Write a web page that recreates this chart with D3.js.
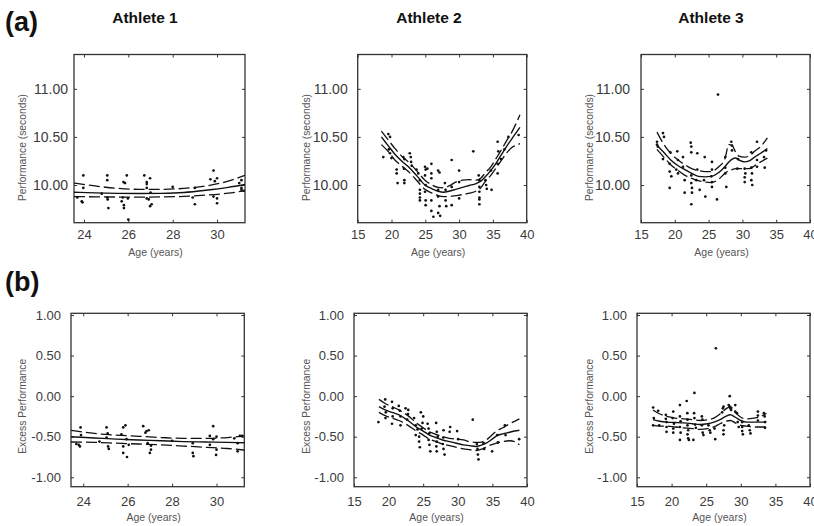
<!DOCTYPE html>
<html>
<head>
<meta charset="utf-8">
<script src="https://cdn.jsdelivr.net/npm/d3@7"></script>
<style>
  html, body { margin: 0; padding: 0; background: #fff; }
  svg { display: block; font-family: "Liberation Sans", Arial, Helvetica, sans-serif; }
</style>
</head>
<body>
<svg id="chart" width="814" height="526"></svg>
<script>
// ---------------- labels & ticks ----------------
const athleteNames = ["Athlete 1", "Athlete 2", "Athlete 3"];
const rowTags = ["(a)", "(b)"];
const perfTicks = [10, 10.5, 11];
const excessTicks = [-1, -0.5, 0, 0.5, 1];
const ageTicksShort = [24, 26, 28, 30];
const ageTicksLong = [15, 20, 25, 30, 35, 40];

// ---------------- (a) race times, seconds: [age, time] ----------------
const a1Races = [[23.97,10.10],[23.97,9.97],[23.7,9.87],[23.9,9.83],[23.93,9.82],[24.8,9.91],[25.05,9.87],[25.05,10.10],[25.05,10.05],[25.1,9.76],[25.07,9.85],
  [25.78,10.03],[25.93,10.10],[25.85,10.02],[25.7,9.83],[25.8,9.79],[25.8,9.76],[26.0,9.64],[25.75,9.87],[25.98,9.86],
  [26.72,10.10],[26.83,10.03],[26.83,10.01],[26.83,9.97],[26.98,10.07],[26.83,9.86],[26.92,9.85],[26.98,9.78],[27.05,9.80],[27.0,9.92],
  [28.0,9.98],[29.0,9.97],[29.0,9.80],[28.9,9.87],[29.84,10.15],[29.7,10.06],[29.9,10.04],[30.0,10.07],[29.84,9.88],[30.0,9.86],[30.0,9.81],
  [31.0,10.02],[31.1,10.05],[31.1,9.97],[31.1,9.95],[31.2,9.94]];
const a2Races = [[18.79,10.29],[19.53,10.53],[19.78,10.50],[19.78,10.33],[20.0,10.28],[19.6,10.37],[20.76,10.16],[20.76,10.12],[20.9,10.02],
  [21.75,10.29],[21.9,10.27],[21.9,10.05],[21.9,10.02],[21.85,10.17],[22.7,10.33],[22.85,10.29],[22.9,10.24],[23.0,10.20],[23.7,10.16],[23.97,10.12],
  [24.2,10.05],[24.2,9.95],[24.2,9.91],[24.2,9.87],[24.2,9.84],[24.96,10.19],[25.05,10.16],[24.96,10.10],[25.05,10.00],[24.96,9.93],[25.05,9.84],[25.05,9.79],
  [25.3,10.17],[25.9,10.22],[25.9,10.12],[25.9,10.07],[25.9,9.84],[25.9,9.73],[26.2,9.67],[26.9,10.15],[27.1,10.13],[26.9,9.95],[26.9,9.88],[27.1,9.78],
  [26.9,9.71],[27.2,9.68],[27.9,10.02],[28.0,9.95],[28.0,9.84],[28.1,9.78],[28.9,10.26],[28.9,9.98],[28.9,9.79],[30.0,10.15],[30.0,10.03],[30.0,9.86],
  [32.1,10.35],[32.9,10.10],[33.0,10.05],[33.0,9.98],[33.0,9.93],[33.0,9.87],[33.0,9.85],[33.0,9.80],[33.9,10.05],[34.0,10.00],[34.1,9.96],[34.7,10.15],
  [34.8,9.95],[35.7,10.45],[35.8,10.35],[35.7,10.22],[35.7,10.12],[36.2,10.27],[36.7,10.37],[37.3,10.50],[38.8,10.52]];
const a3Races = [[26.39,10.94],[17.37,10.45],[17.37,10.42],[17.5,10.40],[18.25,10.54],[18.4,10.50],[18.25,10.27],[19.34,10.34],[19.24,10.22],[19.24,10.14],
  [19.49,10.09],[19.24,9.97],[20.37,10.35],[20.47,10.26],[20.22,10.16],[20.47,10.12],[21.21,10.29],[21.21,10.19],[21.46,10.05],[21.46,9.92],
  [22.35,10.44],[22.44,10.40],[22.44,10.34],[22.44,10.10],[22.44,10.02],[22.54,9.97],[22.54,9.92],[22.44,9.80],[23.33,10.33],[23.33,10.16],[23.18,10.05],
  [23.68,9.95],[24.42,10.29],[24.32,10.05],[24.52,9.88],[25.5,10.24],[25.5,10.16],[25.4,10.09],[25.5,10.03],[25.5,9.98],[26.24,9.85],[27.47,10.29],
  [27.47,10.18],[27.47,10.12],[27.62,9.98],[28.36,10.45],[28.46,10.41],[28.46,10.36],[29.35,10.27],[29.25,10.17],[30.34,10.17],[30.44,10.12],[30.34,10.08],
  [30.34,10.03],[31.32,10.34],[31.32,10.18],[31.42,10.12],[31.32,10.05],[31.46,10.00],[32.16,10.45],[32.16,10.26],[32.16,10.19],[33.2,10.29],[33.3,10.18],[33.5,10.36]];

// fitted trend with confidence band, (a)
const a1CurveAge  = [23.55, 24.5, 25.5, 26.5, 27.5, 28.5, 29.5, 30.5, 31.26];
const a1CurveMid  = [9.925, 9.918, 9.913, 9.911, 9.913, 9.922, 9.945, 9.975, 10.005];
const a1CurveHigh = [10.02, 9.99, 9.965, 9.955, 9.955, 9.965, 9.99, 10.04, 10.10];
const a1CurveLow  = [9.88, 9.877, 9.875, 9.874, 9.876, 9.882, 9.895, 9.915, 9.94];

const a2CurveAge  = [18.5, 19.5, 20.5, 21.5, 22.5, 23.7, 24.95, 26.0, 26.9, 27.7, 28.5, 29.5, 30.5, 31.5, 32.5, 33.2, 33.8, 34.8, 35.5, 36.3, 37.1, 37.8, 38.5, 39.0];
const a2CurveMid  = [10.50, 10.41, 10.32, 10.25, 10.19, 10.10, 10.00, 9.96, 9.935, 9.925, 9.935, 9.955, 9.975, 9.995, 10.015, 10.04, 10.08, 10.16, 10.23, 10.32, 10.41, 10.48, 10.55, 10.60];
const a2CurveHigh = [10.56, 10.47, 10.38, 10.30, 10.24, 10.15, 10.05, 10.00, 9.975, 9.97, 9.99, 10.03, 10.05, 10.055, 10.05, 10.07, 10.12, 10.20, 10.28, 10.37, 10.47, 10.55, 10.65, 10.73];
const a2CurveLow  = [10.42, 10.35, 10.26, 10.20, 10.14, 10.05, 9.955, 9.915, 9.89, 9.88, 9.88, 9.89, 9.90, 9.915, 9.935, 9.97, 10.03, 10.11, 10.18, 10.26, 10.34, 10.39, 10.415, 10.43];

const a3CurveAge  = [17.36, 18.5, 19.4, 20.5, 21.5, 22.5, 23.5, 24.5, 25.4, 26.5, 27.4, 28.0, 28.5, 29.0, 29.5, 30.3, 31.0, 31.8, 32.7, 33.7];
const a3CurveMid  = [10.41, 10.33, 10.26, 10.20, 10.16, 10.12, 10.09, 10.085, 10.09, 10.13, 10.19, 10.24, 10.27, 10.28, 10.26, 10.24, 10.25, 10.29, 10.33, 10.38];
const a3CurveHigh = [10.55, 10.41, 10.33, 10.26, 10.21, 10.17, 10.15, 10.14, 10.14, 10.19, 10.27, 10.42, 10.41, 10.34, 10.30, 10.29, 10.30, 10.35, 10.40, 10.49];
const a3CurveLow  = [10.37, 10.28, 10.21, 10.15, 10.10, 10.07, 10.045, 10.03, 10.025, 10.06, 10.12, 10.15, 10.16, 10.17, 10.17, 10.17, 10.17, 10.20, 10.24, 10.28];

// ---------------- (b) excess performance: [age, excess] ----------------
const b1Races = [[23.88,-0.385],[23.9,-0.48],[23.69,-0.59],[23.8,-0.60],[23.85,-0.62],[24.73,-0.56],[25.05,-0.51],[25.05,-0.385],[25.1,-0.46],[25.12,-0.62],
  [25.15,-0.65],[25.72,-0.47],[25.8,-0.385],[25.9,-0.36],[25.95,-0.53],[25.8,-0.62],[25.8,-0.70],[25.97,-0.75],[26.05,-0.60],[26.7,-0.37],[26.8,-0.45],
  [26.85,-0.43],[26.95,-0.42],[26.9,-0.58],[27.0,-0.70],[27.05,-0.66],[27.05,-0.61],[28.0,-0.55],[28.93,-0.58],[28.93,-0.70],[28.96,-0.74],[29.7,-0.49],
  [29.85,-0.37],[29.85,-0.53],[29.7,-0.60],[30.0,-0.50],[30.0,-0.66],[29.98,-0.725],[30.8,-0.52],[30.95,-0.58],[30.95,-0.68],[31.05,-0.49],[31.15,-0.49]];
const b2Races = [[18.53,-0.32],[19.51,-0.04],[19.41,-0.13],[19.6,-0.20],[19.55,-0.27],[20.49,-0.07],[20.59,-0.15],[20.59,-0.25],[20.49,-0.34],[21.47,-0.12],
  [21.62,-0.18],[21.72,-0.25],[21.72,-0.36],[22.45,-0.15],[22.69,-0.29],[22.84,-0.17],[22.8,-0.22],[23.68,-0.27],[23.92,-0.36],[24.17,-0.41],[23.92,-0.48],
  [24.41,-0.50],[24.41,-0.56],[24.66,-0.20],[25.0,-0.25],[24.8,-0.40],[24.51,-0.63],[24.9,-0.33],[25.64,-0.34],[25.78,-0.40],[25.88,-0.46],[25.78,-0.54],
  [26.03,-0.68],[25.9,-0.60],[26.87,-0.33],[26.96,-0.44],[27.1,-0.50],[26.96,-0.56],[26.96,-0.68],[26.9,-0.62],[27.94,-0.42],[27.84,-0.59],[27.94,-0.65],
  [28.09,-0.72],[27.9,-0.51],[28.82,-0.44],[28.9,-0.38],[29.9,-0.43],[30.05,-0.53],[32.16,-0.29],[32.75,-0.59],[32.85,-0.65],[32.99,-0.78],[32.9,-0.72],
  [33.73,-0.58],[33.8,-0.65],[34.96,-0.68],[35.69,-0.48],[35.8,-0.57],[36.81,-0.36],[36.9,-0.48],[38.87,-0.53]];
const b3Races = [[26.4,0.59],[23.3,0.04],[22.18,-0.06],[21.2,-0.11],[28.4,0.0],[17.33,-0.14],[18.06,-0.18],[17.43,-0.27],[17.33,-0.36],[18.2,-0.36],
  [19.17,-0.23],[19.17,-0.28],[19.27,-0.32],[19.27,-0.38],[19.27,-0.44],[20.24,-0.19],[20.14,-0.27],[20.34,-0.34],[20.24,-0.40],[20.24,-0.45],
  [21.2,-0.25],[21.3,-0.31],[21.2,-0.38],[21.3,-0.45],[21.2,-0.54],[22.28,-0.21],[22.3,-0.29],[22.3,-0.36],[22.4,-0.42],[22.3,-0.47],[22.4,-0.52],
  [22.5,-0.54],[23.15,-0.54],[23.25,-0.21],[23.3,-0.27],[23.4,-0.35],[23.5,-0.39],[24.37,-0.25],[24.45,-0.29],[24.37,-0.36],[24.5,-0.45],[24.6,-0.48],
  [25.33,-0.36],[25.5,-0.42],[25.6,-0.45],[26.2,-0.40],[26.3,-0.53],[27.3,-0.20],[27.4,-0.15],[27.5,-0.13],[27.6,-0.36],[27.5,-0.42],[27.5,-0.47],
  [28.25,-0.11],[28.4,-0.13],[28.5,-0.15],[28.6,-0.17],[29.2,-0.11],[29.2,-0.19],[29.45,-0.21],[29.55,-0.32],[29.7,-0.38],[30.2,-0.32],[30.2,-0.38],
  [30.2,-0.43],[30.3,-0.47],[31.15,-0.36],[31.3,-0.42],[31.4,-0.46],[32.47,-0.19],[32.47,-0.24],[32.47,-0.30],[33.34,-0.21],[33.45,-0.25],[33.5,-0.32],[33.5,-0.39]];

const b1CurveAge  = [23.45, 24.5, 25.5, 26.5, 27.5, 28.5, 29.5, 30.5, 31.25];
const b1CurveMid  = [-0.50, -0.515, -0.53, -0.54, -0.55, -0.56, -0.565, -0.57, -0.575];
const b1CurveHigh = [-0.42, -0.46, -0.48, -0.495, -0.51, -0.52, -0.52, -0.51, -0.49];
const b1CurveLow  = [-0.565, -0.57, -0.58, -0.59, -0.60, -0.615, -0.63, -0.645, -0.665];

const b2CurveAge  = [18.6, 19.5, 20.5, 21.5, 22.8, 24.0, 25.0, 25.9, 26.8, 27.8, 28.8, 29.8, 30.8, 31.7, 32.6, 33.2, 34.1, 34.8, 35.6, 36.5, 37.5, 38.2, 38.9];
const b2CurveMid  = [-0.13, -0.17, -0.20, -0.23, -0.30, -0.38, -0.43, -0.48, -0.51, -0.54, -0.56, -0.58, -0.60, -0.61, -0.62, -0.61, -0.58, -0.54, -0.49, -0.465, -0.445, -0.43, -0.42];
const b2CurveHigh = [-0.04, -0.09, -0.13, -0.17, -0.24, -0.33, -0.39, -0.44, -0.47, -0.50, -0.52, -0.53, -0.54, -0.56, -0.57, -0.57, -0.54, -0.49, -0.43, -0.39, -0.34, -0.31, -0.28];
const b2CurveLow  = [-0.20, -0.24, -0.27, -0.30, -0.36, -0.43, -0.48, -0.53, -0.56, -0.59, -0.61, -0.63, -0.65, -0.66, -0.67, -0.66, -0.63, -0.60, -0.58, -0.56, -0.55, -0.56, -0.60];

const b3CurveAge  = [17.3, 18.3, 19.3, 20.5, 21.7, 23.0, 24.1, 25.2, 26.1, 27.0, 27.8, 28.5, 29.2, 30.0, 30.8, 31.9, 32.9, 33.7];
const b3CurveMid  = [-0.29, -0.31, -0.32, -0.325, -0.33, -0.34, -0.35, -0.34, -0.32, -0.29, -0.25, -0.23, -0.26, -0.30, -0.32, -0.32, -0.32, -0.32];
const b3CurveHigh = [-0.17, -0.22, -0.25, -0.27, -0.28, -0.29, -0.30, -0.29, -0.27, -0.22, -0.16, -0.13, -0.20, -0.26, -0.28, -0.27, -0.25, -0.21];
const b3CurveLow  = [-0.36, -0.37, -0.37, -0.38, -0.39, -0.40, -0.41, -0.40, -0.38, -0.34, -0.31, -0.30, -0.33, -0.36, -0.37, -0.38, -0.38, -0.38];

// ---------------- layout ----------------
const topRow = { y0: 54.5, y1: 222.7, yd: [9.608, 11.357], yt: perfTicks, ylab: "Performance (seconds)",
                 ylabY: 147.5, yTickSize: 14, xpad: 7, xlabBase: 256, yTicksFmt: v => v.toFixed(2) };
const botRow = { y0: 313.3, y1: 486.7, yd: [-1.116, 1.021], yt: excessTicks, ylab: "Excess Performance",
                 ylabY: 406.3, yTickSize: 13, xpad: 10, xlabBase: 520.5, yTicksFmt: v => v.toFixed(2) };

const panels = [
  { row: topRow, x0: 74,    x1: 245,   xd: [23.55, 31.26], xt: ageTicksShort, ypad: 6,  ylabX: 25.5,
    pts: a1Races, cAge: a1CurveAge, cMid: a1CurveMid, cHigh: a1CurveHigh, cLow: a1CurveLow },
  { row: topRow, x0: 357.7, x1: 526.7, xd: [15, 40],       xt: ageTicksLong,  ypad: 10, ylabX: 309.5,
    pts: a2Races, cAge: a2CurveAge, cMid: a2CurveMid, cHigh: a2CurveHigh, cLow: a2CurveLow },
  { row: topRow, x0: 641,   x1: 810,   xd: [15, 40],       xt: ageTicksLong,  ypad: 11, ylabX: 592.5,
    pts: a3Races, cAge: a3CurveAge, cMid: a3CurveMid, cHigh: a3CurveHigh, cLow: a3CurveLow },
  { row: botRow, x0: 71,    x1: 244.3, xd: [23.45, 31.25], xt: ageTicksShort, ypad: 10, ylabX: 26,
    pts: b1Races, cAge: b1CurveAge, cMid: b1CurveMid, cHigh: b1CurveHigh, cLow: b1CurveLow },
  { row: botRow, x0: 354,   x1: 527,   xd: [15, 40],       xt: ageTicksLong,  ypad: 10, ylabX: 310,
    pts: b2Races, cAge: b2CurveAge, cMid: b2CurveMid, cHigh: b2CurveHigh, cLow: b2CurveLow },
  { row: botRow, x0: 637,   x1: 810,   xd: [15, 40],       xt: ageTicksLong,  ypad: 10, ylabX: 593,
    pts: b3Races, cAge: b3CurveAge, cMid: b3CurveMid, cHigh: b3CurveHigh, cLow: b3CurveLow }
];

const svg = d3.select("#chart");
const INK = "#111";
const FRAME = "#333";
const TICKTXT = "#3b3b3b";
const LABTXT = "#555";

// row tags and athlete titles
svg.append("text").attr("x", 5).attr("y", 31).text(rowTags[0])
  .attr("font-size", 27).attr("font-weight", "bold").attr("fill", "#111");
svg.append("text").attr("x", 5).attr("y", 291).text(rowTags[1])
  .attr("font-size", 27).attr("font-weight", "bold").attr("fill", "#111");
[145, 429, 711].forEach((cx, i) => {
  svg.append("text").attr("x", cx).attr("y", 22.7).attr("text-anchor", "middle")
    .attr("font-size", 15.5).attr("font-weight", "bold").attr("fill", "#111")
    .text(athleteNames[i]);
});

panels.forEach((p, idx) => {
  const r = p.row;
  const g = svg.append("g");
  const x = d3.scaleLinear().domain(p.xd).range([p.x0, p.x1]);
  const y = d3.scaleLinear().domain(r.yd).range([r.y1, r.y0]);

  const clipId = "clip" + idx;
  svg.append("clipPath").attr("id", clipId).append("rect")
    .attr("x", p.x0).attr("y", r.y0).attr("width", p.x1 - p.x0).attr("height", r.y1 - r.y0);

  // axes with inward ticks on all four sides
  const bottom = g.append("g").attr("transform", `translate(0,${r.y1})`)
    .call(d3.axisBottom(x).tickValues(p.xt).tickSizeInner(-3).tickSizeOuter(0).tickPadding(r.xpad).tickFormat(d3.format("d")));
  const top = g.append("g").attr("transform", `translate(0,${r.y0})`)
    .call(d3.axisTop(x).tickValues(p.xt).tickSizeInner(-3).tickSizeOuter(0).tickFormat(""));
  const left = g.append("g").attr("transform", `translate(${p.x0},0)`)
    .call(d3.axisLeft(y).tickValues(r.yt).tickSizeInner(-3).tickSizeOuter(0).tickPadding(p.ypad).tickFormat(r.yTicksFmt));
  const right = g.append("g").attr("transform", `translate(${p.x1},0)`)
    .call(d3.axisRight(y).tickValues(r.yt).tickSizeInner(-3).tickSizeOuter(0).tickFormat(""));

  [bottom, top, left, right].forEach(a => {
    a.select(".domain").remove();
    a.selectAll(".tick line").attr("stroke", FRAME).attr("stroke-width", 1);
    a.selectAll("text").attr("fill", TICKTXT).attr("font-family", '"Liberation Sans", Arial, sans-serif');
  });
  bottom.selectAll("text").attr("font-size", 13);
  left.selectAll("text").attr("font-size", r.yTickSize);

  // frame
  g.append("rect").attr("x", p.x0).attr("y", r.y0)
    .attr("width", p.x1 - p.x0).attr("height", r.y1 - r.y0)
    .attr("fill", "none").attr("stroke", FRAME).attr("stroke-width", 1.3);

  // axis titles
  g.append("text").attr("x", (p.x0 + p.x1) / 2 - 4).attr("y", r.xlabBase)
    .attr("text-anchor", "middle").attr("font-size", 10.5).attr("fill", LABTXT).text("Age (years)");
  g.append("text").attr("transform", `translate(${p.ylabX},${r.ylabY}) rotate(-90)`)
    .attr("text-anchor", "middle").attr("font-size", 10.3).attr("fill", LABTXT).text(r.ylab);

  const plot = g.append("g").attr("clip-path", `url(#${clipId})`);

  // races
  plot.selectAll("circle").data(p.pts).join("circle")
    .attr("cx", d => x(d[0])).attr("cy", d => y(d[1])).attr("r", 1.35).attr("fill", INK);

  // trend and band
  const line = d3.line().x(d => x(d[0])).y(d => y(d[1])).curve(d3.curveMonotoneX);
  const mk = vals => p.cAge.map((a, i) => [a, vals[i]]);
  plot.append("path").attr("d", line(mk(p.cMid))).attr("fill", "none")
    .attr("stroke", INK).attr("stroke-width", 1.4);
  [p.cHigh, p.cLow].forEach(vals => {
    plot.append("path").attr("d", line(mk(vals))).attr("fill", "none")
      .attr("stroke", INK).attr("stroke-width", 1.3).attr("stroke-dasharray", "11,4");
  });
});
</script>
</body>
</html>
